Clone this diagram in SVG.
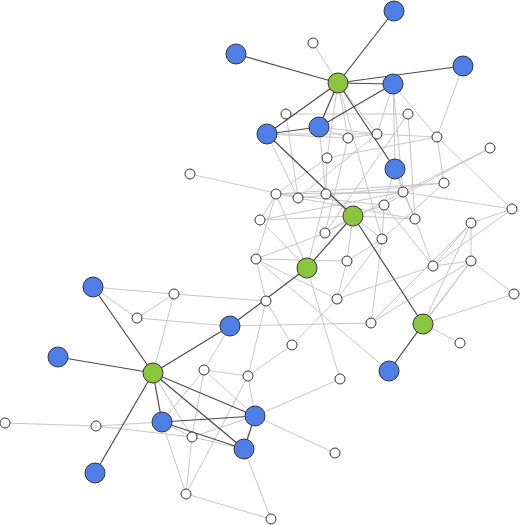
<svg xmlns="http://www.w3.org/2000/svg" width="520" height="525" viewBox="0 0 520 525">
<style>
.l{stroke:#c6c6c6;stroke-width:1;fill:none}
.d{stroke:#4a4a4a;stroke-width:1.2;fill:none}
.w{fill:#ffffff;stroke:#333;stroke-width:1}
.b{fill:#4f7fe6;stroke:#333;stroke-width:1}
.g{fill:#8bc43f;stroke:#333;stroke-width:1}
</style>
<rect width="520" height="525" fill="#fff"/>
<g id="connectors">
<g id="light">
<line class="l" x1="313" y1="43" x2="338" y2="83"/>
<line class="l" x1="338" y1="83" x2="348" y2="138"/>
<line class="l" x1="338" y1="83" x2="327" y2="158"/>
<line class="l" x1="338" y1="83" x2="377" y2="134"/>
<line class="l" x1="338" y1="83" x2="382" y2="239"/>
<line class="l" x1="286" y1="114" x2="408" y2="114"/>
<line class="l" x1="286" y1="114" x2="298" y2="198"/>
<line class="l" x1="267" y1="134" x2="348" y2="138"/>
<line class="l" x1="267" y1="134" x2="377" y2="134"/>
<line class="l" x1="267" y1="134" x2="298" y2="198"/>
<line class="l" x1="319" y1="127" x2="348" y2="138"/>
<line class="l" x1="319" y1="127" x2="326" y2="194"/>
<line class="l" x1="319" y1="127" x2="377" y2="134"/>
<line class="l" x1="393" y1="84" x2="377" y2="134"/>
<line class="l" x1="393" y1="84" x2="437" y2="137"/>
<line class="l" x1="393" y1="84" x2="395" y2="169"/>
<line class="l" x1="393" y1="84" x2="403" y2="192"/>
<line class="l" x1="463" y1="66" x2="437" y2="137"/>
<line class="l" x1="408" y1="114" x2="415" y2="219"/>
<line class="l" x1="348" y1="138" x2="377" y2="134"/>
<line class="l" x1="377" y1="134" x2="437" y2="137"/>
<line class="l" x1="437" y1="137" x2="444" y2="183"/>
<line class="l" x1="437" y1="137" x2="512" y2="209"/>
<line class="l" x1="490" y1="148" x2="403" y2="192"/>
<line class="l" x1="490" y1="148" x2="384" y2="205"/>
<line class="l" x1="327" y1="158" x2="276" y2="194"/>
<line class="l" x1="327" y1="158" x2="326" y2="194"/>
<line class="l" x1="327" y1="158" x2="437" y2="137"/>
<line class="l" x1="348" y1="138" x2="325" y2="233"/>
<line class="l" x1="377" y1="134" x2="298" y2="198"/>
<line class="l" x1="408" y1="114" x2="325" y2="233"/>
<line class="l" x1="395" y1="169" x2="403" y2="192"/>
<line class="l" x1="395" y1="169" x2="384" y2="205"/>
<line class="l" x1="395" y1="169" x2="415" y2="219"/>
<line class="l" x1="444" y1="183" x2="382" y2="239"/>
<line class="l" x1="444" y1="183" x2="276" y2="194"/>
<line class="l" x1="444" y1="183" x2="298" y2="198"/>
<line class="l" x1="403" y1="192" x2="512" y2="209"/>
<line class="l" x1="512" y1="209" x2="471" y2="223"/>
<line class="l" x1="512" y1="209" x2="433" y2="266"/>
<line class="l" x1="471" y1="223" x2="471" y2="261"/>
<line class="l" x1="471" y1="223" x2="433" y2="266"/>
<line class="l" x1="471" y1="223" x2="423" y2="324"/>
<line class="l" x1="471" y1="261" x2="433" y2="266"/>
<line class="l" x1="471" y1="261" x2="514" y2="294"/>
<line class="l" x1="471" y1="261" x2="423" y2="324"/>
<line class="l" x1="471" y1="261" x2="371" y2="323"/>
<line class="l" x1="514" y1="294" x2="423" y2="324"/>
<line class="l" x1="423" y1="324" x2="460" y2="343"/>
<line class="l" x1="433" y1="266" x2="337" y2="299"/>
<line class="l" x1="433" y1="266" x2="415" y2="219"/>
<line class="l" x1="433" y1="266" x2="384" y2="205"/>
<line class="l" x1="371" y1="323" x2="471" y2="223"/>
<line class="l" x1="371" y1="323" x2="382" y2="239"/>
<line class="l" x1="337" y1="299" x2="347" y2="261"/>
<line class="l" x1="337" y1="299" x2="382" y2="239"/>
<line class="l" x1="347" y1="261" x2="382" y2="239"/>
<line class="l" x1="347" y1="261" x2="353" y2="216"/>
<line class="l" x1="353" y1="216" x2="326" y2="194"/>
<line class="l" x1="353" y1="216" x2="384" y2="205"/>
<line class="l" x1="353" y1="216" x2="415" y2="219"/>
<line class="l" x1="353" y1="216" x2="325" y2="233"/>
<line class="l" x1="353" y1="216" x2="260" y2="220"/>
<line class="l" x1="353" y1="216" x2="382" y2="239"/>
<line class="l" x1="307" y1="268" x2="260" y2="220"/>
<line class="l" x1="307" y1="268" x2="326" y2="194"/>
<line class="l" x1="307" y1="268" x2="276" y2="194"/>
<line class="l" x1="307" y1="268" x2="340" y2="379"/>
<line class="l" x1="260" y1="220" x2="276" y2="194"/>
<line class="l" x1="260" y1="220" x2="403" y2="192"/>
<line class="l" x1="276" y1="194" x2="256" y2="259"/>
<line class="l" x1="276" y1="194" x2="403" y2="192"/>
<line class="l" x1="298" y1="198" x2="415" y2="219"/>
<line class="l" x1="326" y1="194" x2="403" y2="192"/>
<line class="l" x1="325" y1="233" x2="403" y2="192"/>
<line class="l" x1="384" y1="205" x2="382" y2="239"/>
<line class="l" x1="384" y1="205" x2="276" y2="194"/>
<line class="l" x1="415" y1="219" x2="403" y2="192"/>
<line class="l" x1="190" y1="174" x2="298" y2="198"/>
<line class="l" x1="256" y1="259" x2="347" y2="261"/>
<line class="l" x1="256" y1="259" x2="325" y2="233"/>
<line class="l" x1="256" y1="259" x2="337" y2="299"/>
<line class="l" x1="256" y1="259" x2="266" y2="301"/>
<line class="l" x1="93" y1="287" x2="174" y2="294"/>
<line class="l" x1="93" y1="287" x2="137" y2="318"/>
<line class="l" x1="137" y1="318" x2="174" y2="294"/>
<line class="l" x1="174" y1="294" x2="266" y2="301"/>
<line class="l" x1="174" y1="294" x2="153" y2="373"/>
<line class="l" x1="137" y1="318" x2="230" y2="326"/>
<line class="l" x1="230" y1="326" x2="371" y2="323"/>
<line class="l" x1="230" y1="326" x2="204" y2="370"/>
<line class="l" x1="266" y1="301" x2="292" y2="345"/>
<line class="l" x1="266" y1="301" x2="248" y2="376"/>
<line class="l" x1="292" y1="345" x2="248" y2="376"/>
<line class="l" x1="292" y1="345" x2="337" y2="299"/>
<line class="l" x1="204" y1="370" x2="248" y2="376"/>
<line class="l" x1="204" y1="370" x2="192" y2="437"/>
<line class="l" x1="204" y1="370" x2="255" y2="416"/>
<line class="l" x1="204" y1="370" x2="162" y2="422"/>
<line class="l" x1="248" y1="376" x2="255" y2="416"/>
<line class="l" x1="248" y1="376" x2="186" y2="494"/>
<line class="l" x1="255" y1="416" x2="340" y2="379"/>
<line class="l" x1="255" y1="416" x2="335" y2="453"/>
<line class="l" x1="244" y1="449" x2="271" y2="519"/>
<line class="l" x1="186" y1="494" x2="271" y2="519"/>
<line class="l" x1="186" y1="494" x2="192" y2="437"/>
<line class="l" x1="162" y1="422" x2="186" y2="494"/>
<line class="l" x1="192" y1="437" x2="255" y2="416"/>
<line class="l" x1="192" y1="437" x2="244" y2="449"/>
<line class="l" x1="162" y1="422" x2="192" y2="437"/>
<line class="l" x1="96" y1="426" x2="192" y2="437"/>
<line class="l" x1="96" y1="426" x2="162" y2="422"/>
<line class="l" x1="5" y1="423" x2="96" y2="426"/>
<line class="l" x1="153" y1="373" x2="192" y2="437"/>
<line class="l" x1="389" y1="371" x2="256" y2="259"/>
<line class="l" x1="389" y1="371" x2="471" y2="261"/>
</g>
<g id="dark">
<line class="d" x1="338" y1="83" x2="394" y2="11"/>
<line class="d" x1="338" y1="83" x2="236" y2="54"/>
<line class="d" x1="338" y1="83" x2="393" y2="84"/>
<line class="d" x1="338" y1="83" x2="463" y2="66"/>
<line class="d" x1="338" y1="83" x2="267" y2="134"/>
<line class="d" x1="338" y1="83" x2="319" y2="127"/>
<line class="d" x1="338" y1="83" x2="395" y2="169"/>
<line class="d" x1="393" y1="84" x2="319" y2="127"/>
<line class="d" x1="267" y1="134" x2="319" y2="127"/>
<line class="d" x1="267" y1="134" x2="353" y2="216"/>
<line class="d" x1="353" y1="216" x2="307" y2="268"/>
<line class="d" x1="353" y1="216" x2="423" y2="324"/>
<line class="d" x1="307" y1="268" x2="230" y2="326"/>
<line class="d" x1="230" y1="326" x2="153" y2="373"/>
<line class="d" x1="423" y1="324" x2="389" y2="371"/>
<line class="d" x1="153" y1="373" x2="93" y2="287"/>
<line class="d" x1="153" y1="373" x2="58" y2="357"/>
<line class="d" x1="153" y1="373" x2="95" y2="473"/>
<line class="d" x1="153" y1="373" x2="162" y2="422"/>
<line class="d" x1="153" y1="373" x2="255" y2="416"/>
<line class="d" x1="153" y1="373" x2="244" y2="449"/>
<line class="d" x1="162" y1="422" x2="255" y2="416"/>
<line class="d" x1="162" y1="422" x2="244" y2="449"/>
<line class="d" x1="255" y1="416" x2="244" y2="449"/>
</g>
</g>
<g id="nodes">
<g id="w1"><circle class="w" cx="313" cy="43" r="5"/></g>
<g id="w2"><circle class="w" cx="286" cy="114" r="5"/></g>
<g id="w3"><circle class="w" cx="408" cy="114" r="5"/></g>
<g id="w4"><circle class="w" cx="348" cy="138" r="5"/></g>
<g id="w5"><circle class="w" cx="377" cy="134" r="5"/></g>
<g id="w6"><circle class="w" cx="437" cy="137" r="5"/></g>
<g id="w7"><circle class="w" cx="490" cy="148" r="5"/></g>
<g id="w8"><circle class="w" cx="327" cy="158" r="5"/></g>
<g id="w9"><circle class="w" cx="190" cy="174" r="5"/></g>
<g id="w10"><circle class="w" cx="444" cy="183" r="5"/></g>
<g id="w11"><circle class="w" cx="276" cy="194" r="5"/></g>
<g id="w12"><circle class="w" cx="298" cy="198" r="5"/></g>
<g id="w13"><circle class="w" cx="326" cy="194" r="5"/></g>
<g id="w14"><circle class="w" cx="403" cy="192" r="5"/></g>
<g id="w15"><circle class="w" cx="384" cy="205" r="5"/></g>
<g id="w16"><circle class="w" cx="512" cy="209" r="5"/></g>
<g id="w17"><circle class="w" cx="415" cy="219" r="5"/></g>
<g id="w18"><circle class="w" cx="471" cy="223" r="5"/></g>
<g id="w19"><circle class="w" cx="260" cy="220" r="5"/></g>
<g id="w20"><circle class="w" cx="325" cy="233" r="5"/></g>
<g id="w21"><circle class="w" cx="382" cy="239" r="5"/></g>
<g id="w22"><circle class="w" cx="256" cy="259" r="5"/></g>
<g id="w23"><circle class="w" cx="347" cy="261" r="5"/></g>
<g id="w24"><circle class="w" cx="471" cy="261" r="5"/></g>
<g id="w25"><circle class="w" cx="433" cy="266" r="5"/></g>
<g id="w26"><circle class="w" cx="514" cy="294" r="5"/></g>
<g id="w27"><circle class="w" cx="174" cy="294" r="5"/></g>
<g id="w28"><circle class="w" cx="337" cy="299" r="5"/></g>
<g id="w29"><circle class="w" cx="266" cy="301" r="5"/></g>
<g id="w30"><circle class="w" cx="137" cy="318" r="5"/></g>
<g id="w31"><circle class="w" cx="371" cy="323" r="5"/></g>
<g id="w32"><circle class="w" cx="292" cy="345" r="5"/></g>
<g id="w33"><circle class="w" cx="460" cy="343" r="5"/></g>
<g id="w34"><circle class="w" cx="204" cy="370" r="5"/></g>
<g id="w35"><circle class="w" cx="248" cy="376" r="5"/></g>
<g id="w36"><circle class="w" cx="340" cy="379" r="5"/></g>
<g id="w37"><circle class="w" cx="5" cy="423" r="5"/></g>
<g id="w38"><circle class="w" cx="96" cy="426" r="5"/></g>
<g id="w39"><circle class="w" cx="192" cy="437" r="5"/></g>
<g id="w40"><circle class="w" cx="335" cy="453" r="5"/></g>
<g id="w41"><circle class="w" cx="186" cy="494" r="5"/></g>
<g id="w42"><circle class="w" cx="271" cy="519" r="5"/></g>
<g id="b1"><circle class="b" cx="394" cy="11" r="10"/></g>
<g id="b2"><circle class="b" cx="236" cy="54" r="10"/></g>
<g id="b3"><circle class="b" cx="393" cy="84" r="10"/></g>
<g id="b4"><circle class="b" cx="463" cy="66" r="10"/></g>
<g id="b5"><circle class="b" cx="267" cy="134" r="10"/></g>
<g id="b6"><circle class="b" cx="319" cy="127" r="10"/></g>
<g id="b7"><circle class="b" cx="395" cy="169" r="10"/></g>
<g id="b8"><circle class="b" cx="93" cy="287" r="10"/></g>
<g id="b9"><circle class="b" cx="230" cy="326" r="10"/></g>
<g id="b10"><circle class="b" cx="58" cy="357" r="10"/></g>
<g id="b11"><circle class="b" cx="389" cy="371" r="10"/></g>
<g id="b12"><circle class="b" cx="162" cy="422" r="10"/></g>
<g id="b13"><circle class="b" cx="255" cy="416" r="10"/></g>
<g id="b14"><circle class="b" cx="244" cy="449" r="10"/></g>
<g id="b15"><circle class="b" cx="95" cy="473" r="10"/></g>
<g id="g1"><circle class="g" cx="338" cy="83" r="10"/></g>
<g id="g2"><circle class="g" cx="353" cy="216" r="10"/></g>
<g id="g3"><circle class="g" cx="307" cy="268" r="10"/></g>
<g id="g4"><circle class="g" cx="423" cy="324" r="10"/></g>
<g id="g5"><circle class="g" cx="153" cy="373" r="10"/></g>
</g>
</svg>
